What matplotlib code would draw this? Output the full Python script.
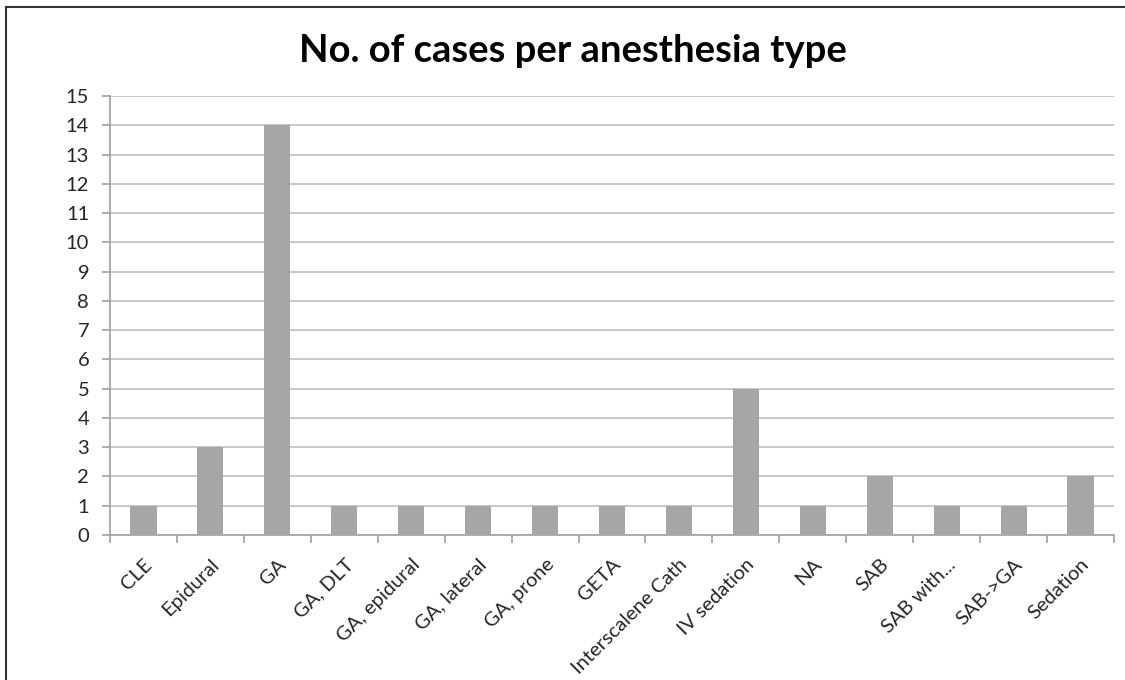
import numpy as np
import matplotlib.pyplot as plt
from matplotlib.lines import Line2D

categorias = ["CLE", "Epidural", "GA", "GA, DLT", "GA, epidural", "GA, lateral",
              "GA, prone", "GETA", "Interscalene Cath", "IV sedation", "NA", "SAB",
              "SAB with...", "SAB->GA", "Sedation"]
casos = [1, 3, 14, 1, 1, 1, 1, 1, 1, 5, 1, 2, 1, 1, 2]

plt.rcParams["font.family"] = ["Lato", "DejaVu Sans"]

fig = plt.figure(figsize=(11.25, 6.8), dpi=100)
ax = fig.add_axes([0.0978, 0.2132, 0.8924, 0.6456])

x = np.arange(len(categorias))
ax.bar(x, casos, width=0.39, color="#A6A6A6", zorder=3)

ax.set_xlim(-0.5, len(categorias) - 0.5)
ax.set_ylim(0, 15)
ax.set_yticks(range(0, 16))
ax.grid(axis="y", color="#BFBFBF", linewidth=1.2, zorder=0)

# ticks between categories, labels centred under bars
ax.set_xticks(np.arange(-0.5, len(categorias)), minor=False)
ax.set_xticklabels([])
ax.set_xticks(x, minor=True)
ax.set_xticklabels(categorias, minor=True, rotation=45, ha="right",
                   rotation_mode="anchor", fontsize=14.5, color="#262626")
ax.tick_params(axis="x", which="minor", length=0, pad=15)
ax.tick_params(axis="x", which="major", length=6, color="#A0A0A0", width=1.2)
ax.tick_params(axis="y", length=6, color="#A0A0A0", width=1.2,
               labelsize=14.5, labelcolor="#262626", pad=9)

for s in ["top", "right"]:
    ax.spines[s].set_visible(False)
for s in ["left", "bottom"]:
    ax.spines[s].set_color("#A0A0A0")
    ax.spines[s].set_linewidth(1.2)

fig.text(0.509, 0.925, "No. of cases per anesthesia type", ha="center",
         va="center", fontsize=27.5, fontweight="bold", color="black")

# chart border (only left and top are visible in the original)
fig.add_artist(Line2D([0.0055, 0.0055], [0.0, 0.99], color="#333333", lw=1.5,
                      transform=fig.transFigure))
fig.add_artist(Line2D([0.0055, 1.0], [0.99, 0.99], color="#333333", lw=1.5,
                      transform=fig.transFigure))

plt.savefig("out.png", dpi=100)
